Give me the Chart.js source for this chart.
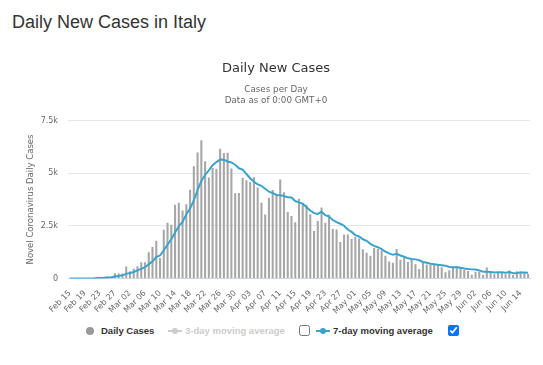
<!DOCTYPE html>
<html>
<head>
<meta charset="utf-8">
<script src="https://cdn.jsdelivr.net/npm/chart.js@4.4.1/dist/chart.umd.min.js"></script>
<style>
  body { margin: 0; background: #fff; width: 543px; height: 365px; overflow: hidden; position: relative; }
  #pageTitle { position: absolute; left: 12px; top: 12px; font: 18px "Liberation Sans", Arial, sans-serif; color: #333; white-space: nowrap; }
  #dailyChart { position: absolute; left: 0; top: 50px; }
  .lg { position: absolute; font: bold 9.5px "Liberation Sans", Arial, sans-serif; color: #333; white-space: nowrap; line-height: 12px; top: 325px; }
  .off { color: #cccccc; }
  .dot { position: absolute; width: 8px; height: 8px; border-radius: 50%; background: #999; left: 86px; top: 327px; }
  .sym { position: absolute; height: 2px; width: 14px; top: 330px; }
  .sym i { position: absolute; left: 4px; top: -2px; width: 6px; height: 6px; border-radius: 50%; }
  input.cb { position: absolute; margin: 0; width: 11px; height: 11px; top: 325px; }
</style>
</head>
<body>
<div id="pageTitle">Daily New Cases in Italy</div>
<canvas id="dailyChart" width="543" height="268"></canvas>

<span class="dot"></span>
<span class="lg" style="left:101px">Daily Cases</span>
<span class="sym" style="left:168px;background:#cccccc"><i style="background:#cccccc"></i></span>
<span class="lg off" style="left:185px">3-day moving average</span>
<input class="cb" type="checkbox" style="left:299px">
<span class="sym" style="left:316px;background:#3aa3cc"><i style="background:#3aa3cc"></i></span>
<span class="lg" style="left:333px">7-day moving average</span>
<input class="cb" type="checkbox" checked style="left:448px">

<script>
const dates = [
  "Feb 15","Feb 16","Feb 17","Feb 18","Feb 19","Feb 20","Feb 21","Feb 22","Feb 23","Feb 24","Feb 25","Feb 26","Feb 27","Feb 28","Feb 29",
  "Mar 01","Mar 02","Mar 03","Mar 04","Mar 05","Mar 06","Mar 07","Mar 08","Mar 09","Mar 10","Mar 11","Mar 12","Mar 13","Mar 14","Mar 15",
  "Mar 16","Mar 17","Mar 18","Mar 19","Mar 20","Mar 21","Mar 22","Mar 23","Mar 24","Mar 25","Mar 26","Mar 27","Mar 28","Mar 29","Mar 30","Mar 31",
  "Apr 01","Apr 02","Apr 03","Apr 04","Apr 05","Apr 06","Apr 07","Apr 08","Apr 09","Apr 10","Apr 11","Apr 12","Apr 13","Apr 14","Apr 15",
  "Apr 16","Apr 17","Apr 18","Apr 19","Apr 20","Apr 21","Apr 22","Apr 23","Apr 24","Apr 25","Apr 26","Apr 27","Apr 28","Apr 29","Apr 30",
  "May 01","May 02","May 03","May 04","May 05","May 06","May 07","May 08","May 09","May 10","May 11","May 12","May 13","May 14","May 15",
  "May 16","May 17","May 18","May 19","May 20","May 21","May 22","May 23","May 24","May 25","May 26","May 27","May 28","May 29","May 30","May 31",
  "Jun 01","Jun 02","Jun 03","Jun 04","Jun 05","Jun 06","Jun 07","Jun 08","Jun 09","Jun 10","Jun 11","Jun 12","Jun 13","Jun 14","Jun 15","Jun 16"
];

const dailyCases = [
  0,0,0,0,0,0,17,59,78,72,93,78,255,233,240,
  566,342,466,587,769,778,1247,1492,1797,977,
  2313,2651,2547,3497,3590,3233,3526,4207,5322,5986,
  6557,5560,4789,5249,5210,6153,5959,5974,5217,4050,
  4053,4782,4668,4585,4805,4316,3599,3039,3836,4204,
  3951,4694,4092,3153,2972,2667,3786,3493,3491,3047,
  2256,2729,3370,2646,3021,2357,2324,1739,2091,2086,
  1872,1965,1900,1389,1221,1075,1444,1401,1327,1083,
  802,744,1402,888,992,789,875,675,451,813,
  665,642,652,669,531,300,397,584,593,516,
  416,355,178,318,321,177,518,270,197,280,
  283,202,379,163,346,338,303,210
];

const movingAvg7 = [
  0,0,0,0,0,0,2,11,22,32,46,57,93,124,150,
  220,258,311,384,458,535,679,812,1019,1092,
  1339,1608,1861,2182,2482,2687,3051,3322,3703,4194,
  4632,4913,5135,5381,5525,5643,5640,5556,5507,5402,
  5231,5170,4958,4761,4594,4466,4401,4256,4121,4055,
  3964,3948,3916,3853,3843,3676,3616,3551,3379,3230,
  3102,3067,3167,3005,2937,2775,2672,2598,2507,2323,
  2213,2062,1997,1863,1789,1644,1552,1485,1394,1277,
  1193,1125,1172,1092,1034,957,927,909,867,783,
  751,701,682,652,632,610,551,539,532,513,
  477,452,434,423,385,326,326,305,283,297,
  292,275,304,253,264,284,288,277
];

const yTickValues = [0, 2500, 5000, 7500];
const yTickLabels = ["0", "2.5k", "5k", "7.5k"];

const chartFont = '"DejaVu Sans", "Lucida Grande", sans-serif';

new Chart(document.getElementById("dailyChart"), {
  data: {
    labels: dates,
    datasets: [
      {
        type: "line",
        label: "7-day moving average",
        data: movingAvg7,
        borderColor: "#3aa3cc",
        borderWidth: 2,
        pointRadius: 0,
        tension: 0,
        fill: false,
        order: 0
      },
      {
        type: "bar",
        label: "Daily Cases",
        data: dailyCases,
        backgroundColor: "#a6a6a6",
        barPercentage: 0.55,
        categoryPercentage: 1,
        order: 1
      }
    ]
  },
  options: {
    responsive: false,
    animation: false,
    layout: { padding: { left: 22, right: 13, top: 0, bottom: 0 } },
    plugins: {
      legend: { display: false },
      tooltip: { enabled: false },
      title: {
        display: true,
        text: "Daily New Cases",
        color: "#333333",
        font: { family: chartFont, size: 13, weight: "normal" },
        padding: { top: 11, bottom: 4 }
      },
      subtitle: {
        display: true,
        text: ["Cases per Day", "Data as of 0:00 GMT+0"],
        color: "#666666",
        font: { family: chartFont, size: 8.75, lineHeight: 1.25 },
        padding: { top: 4, bottom: 14 }
      }
    },
    scales: {
      x: {
        grid: { display: false },
        border: { display: true, color: "#ccd6eb" },
        ticks: {
          autoSkip: false,
          maxRotation: 45,
          minRotation: 45,
          color: "#666666",
          font: { family: chartFont, size: 8 },
          padding: 2,
          callback: function (value, index) {
            return index % 4 === 0 ? dates[index] : "";
          }
        }
      },
      y: {
        min: 0,
        max: 7500,
        afterBuildTicks: function (axis) {
          axis.ticks = yTickValues.map(v => ({ value: v }));
        },
        afterFit: function (axis) {
          axis.width = 46;
        },
        grid: { color: "#e6e6e6", drawTicks: false },
        border: { display: false },
        ticks: {
          color: "#666666",
          font: { family: chartFont, size: 8 },
          padding: 10,
          callback: function (value) {
            const i = yTickValues.indexOf(value);
            return i >= 0 ? yTickLabels[i] : "";
          }
        },
        title: {
          display: true,
          text: "Novel Coronavirus Daily Cases",
          color: "#666666",
          font: { family: chartFont, size: 8.5 }
        }
      }
    }
  }
});
</script>
</body>
</html>
